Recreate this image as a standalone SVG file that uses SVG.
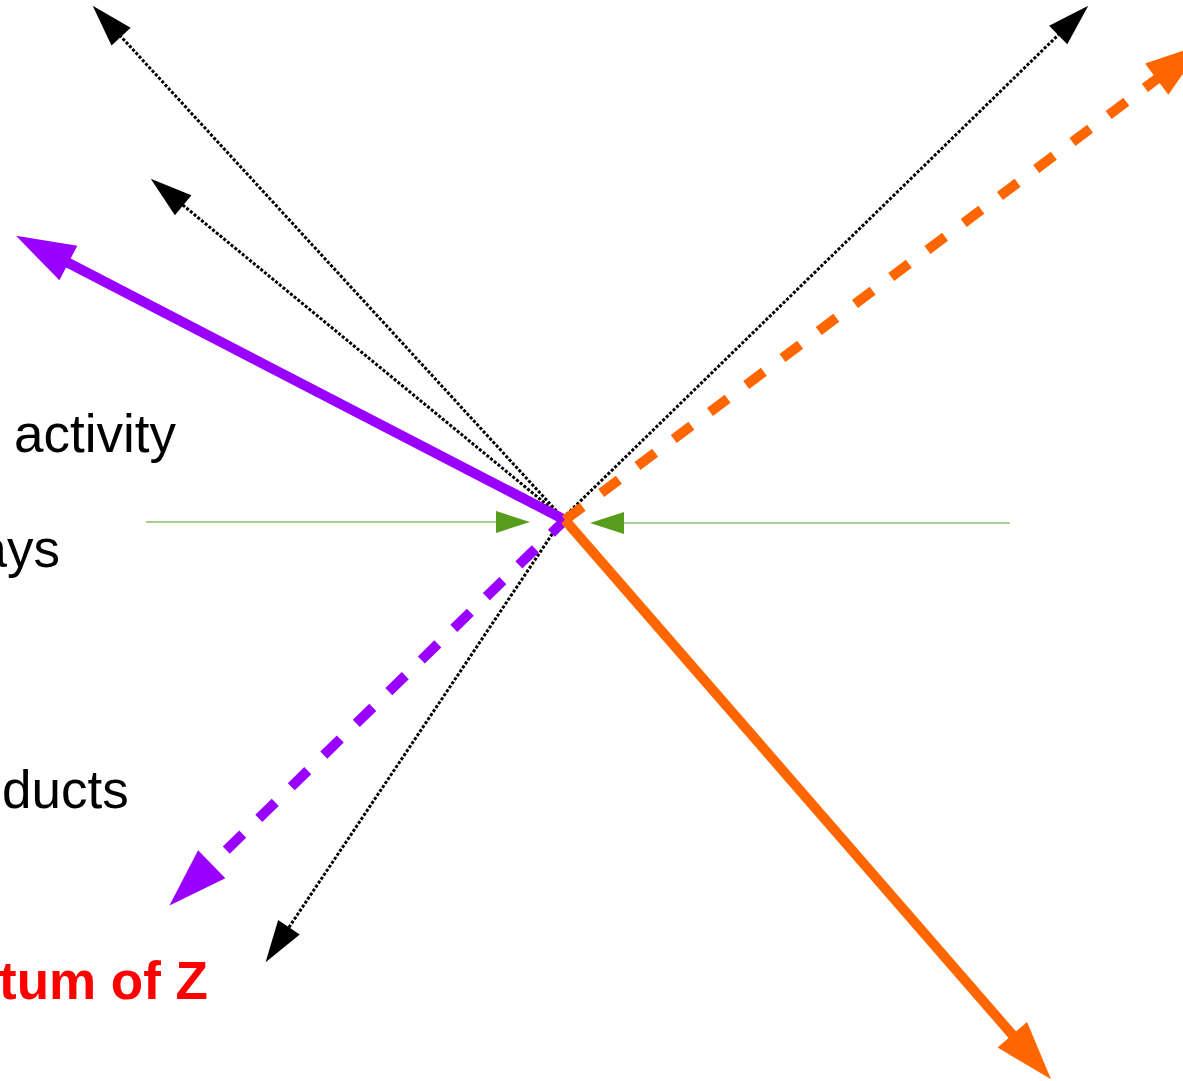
<svg xmlns="http://www.w3.org/2000/svg" width="1183" height="1081" viewBox="0 0 1183 1081">
<style>
.lbl{font-family:"Liberation Sans",Arial,sans-serif;font-size:53px;fill:#000}
.red{font-weight:bold;fill:#ff0000}
.dot{fill:none;stroke:#000;stroke-width:3;stroke-dasharray:3 1.8}
.pur{fill:none;stroke:#9900ff;stroke-width:10}
.org{fill:none;stroke:#ff6600;stroke-width:10}
.grn{fill:none;stroke:#579d1c;stroke-width:1}
</style>
<defs>
<marker id="mk" markerUnits="userSpaceOnUse" orient="auto" overflow="visible" markerWidth="1" markerHeight="1" refX="1" refY="0"><path d="M0,-13 L42,0 L0,13 z" fill="#000"/></marker>
<marker id="mp" markerUnits="userSpaceOnUse" orient="auto" overflow="visible" markerWidth="1" markerHeight="1" refX="1" refY="0"><path d="M0,-19.5 L59,0 L0,19.5 z" fill="#9900ff"/></marker>
<marker id="mo" markerUnits="userSpaceOnUse" orient="auto" overflow="visible" markerWidth="1" markerHeight="1" refX="1" refY="0"><path d="M0,-19.5 L59,0 L0,19.5 z" fill="#ff6600"/></marker>
<marker id="mg" markerUnits="userSpaceOnUse" orient="auto" overflow="visible" markerWidth="1" markerHeight="1" refX="0" refY="0"><path d="M0,-11 L34,0 L0,11 z" fill="#579d1c"/></marker>
</defs>
<g id="labels">
<text id="t-activity" class="lbl" x="14" y="452">activity</text>
<text id="t-ays" class="lbl" x="60" y="567" text-anchor="end">ays</text>
<text id="t-ducts" class="lbl" x="2" y="808">ducts</text>
<text id="t-z" class="lbl red" x="208" y="999" text-anchor="end">tum of Z</text>
</g>
<g id="connectors">
<line class="grn" x1="146" y1="522" x2="496" y2="522" marker-end="url(#mg)"/>
<line class="grn" x1="1010" y1="523" x2="624" y2="523" marker-end="url(#mg)"/>
<line class="dot" x1="563" y1="518" x2="120.4" y2="35.9" marker-end="url(#mk)"/>
<line class="dot" x1="563" y1="518" x2="182.4" y2="204.7" marker-end="url(#mk)"/>
<line class="dot" x1="563" y1="518" x2="1058.9" y2="34.3" marker-end="url(#mk)"/>
<line class="dot" x1="563" y1="518" x2="288.4" y2="928.1" marker-end="url(#mk)"/>
<line class="pur" x1="565" y1="520" x2="67.5" y2="262.5" marker-end="url(#mp)"/>
<line class="pur" x1="565" y1="520" x2="211" y2="865" stroke-dasharray="23 22.4" stroke-dashoffset="4" marker-end="url(#mp)"/>
<line class="org" x1="565" y1="520" x2="1013" y2="1035.5" marker-end="url(#mo)"/>
<line class="org" x1="565" y1="520" x2="1157.5" y2="78.5" stroke-dasharray="22 23.2" marker-end="url(#mo)"/>
</g>
</svg>
